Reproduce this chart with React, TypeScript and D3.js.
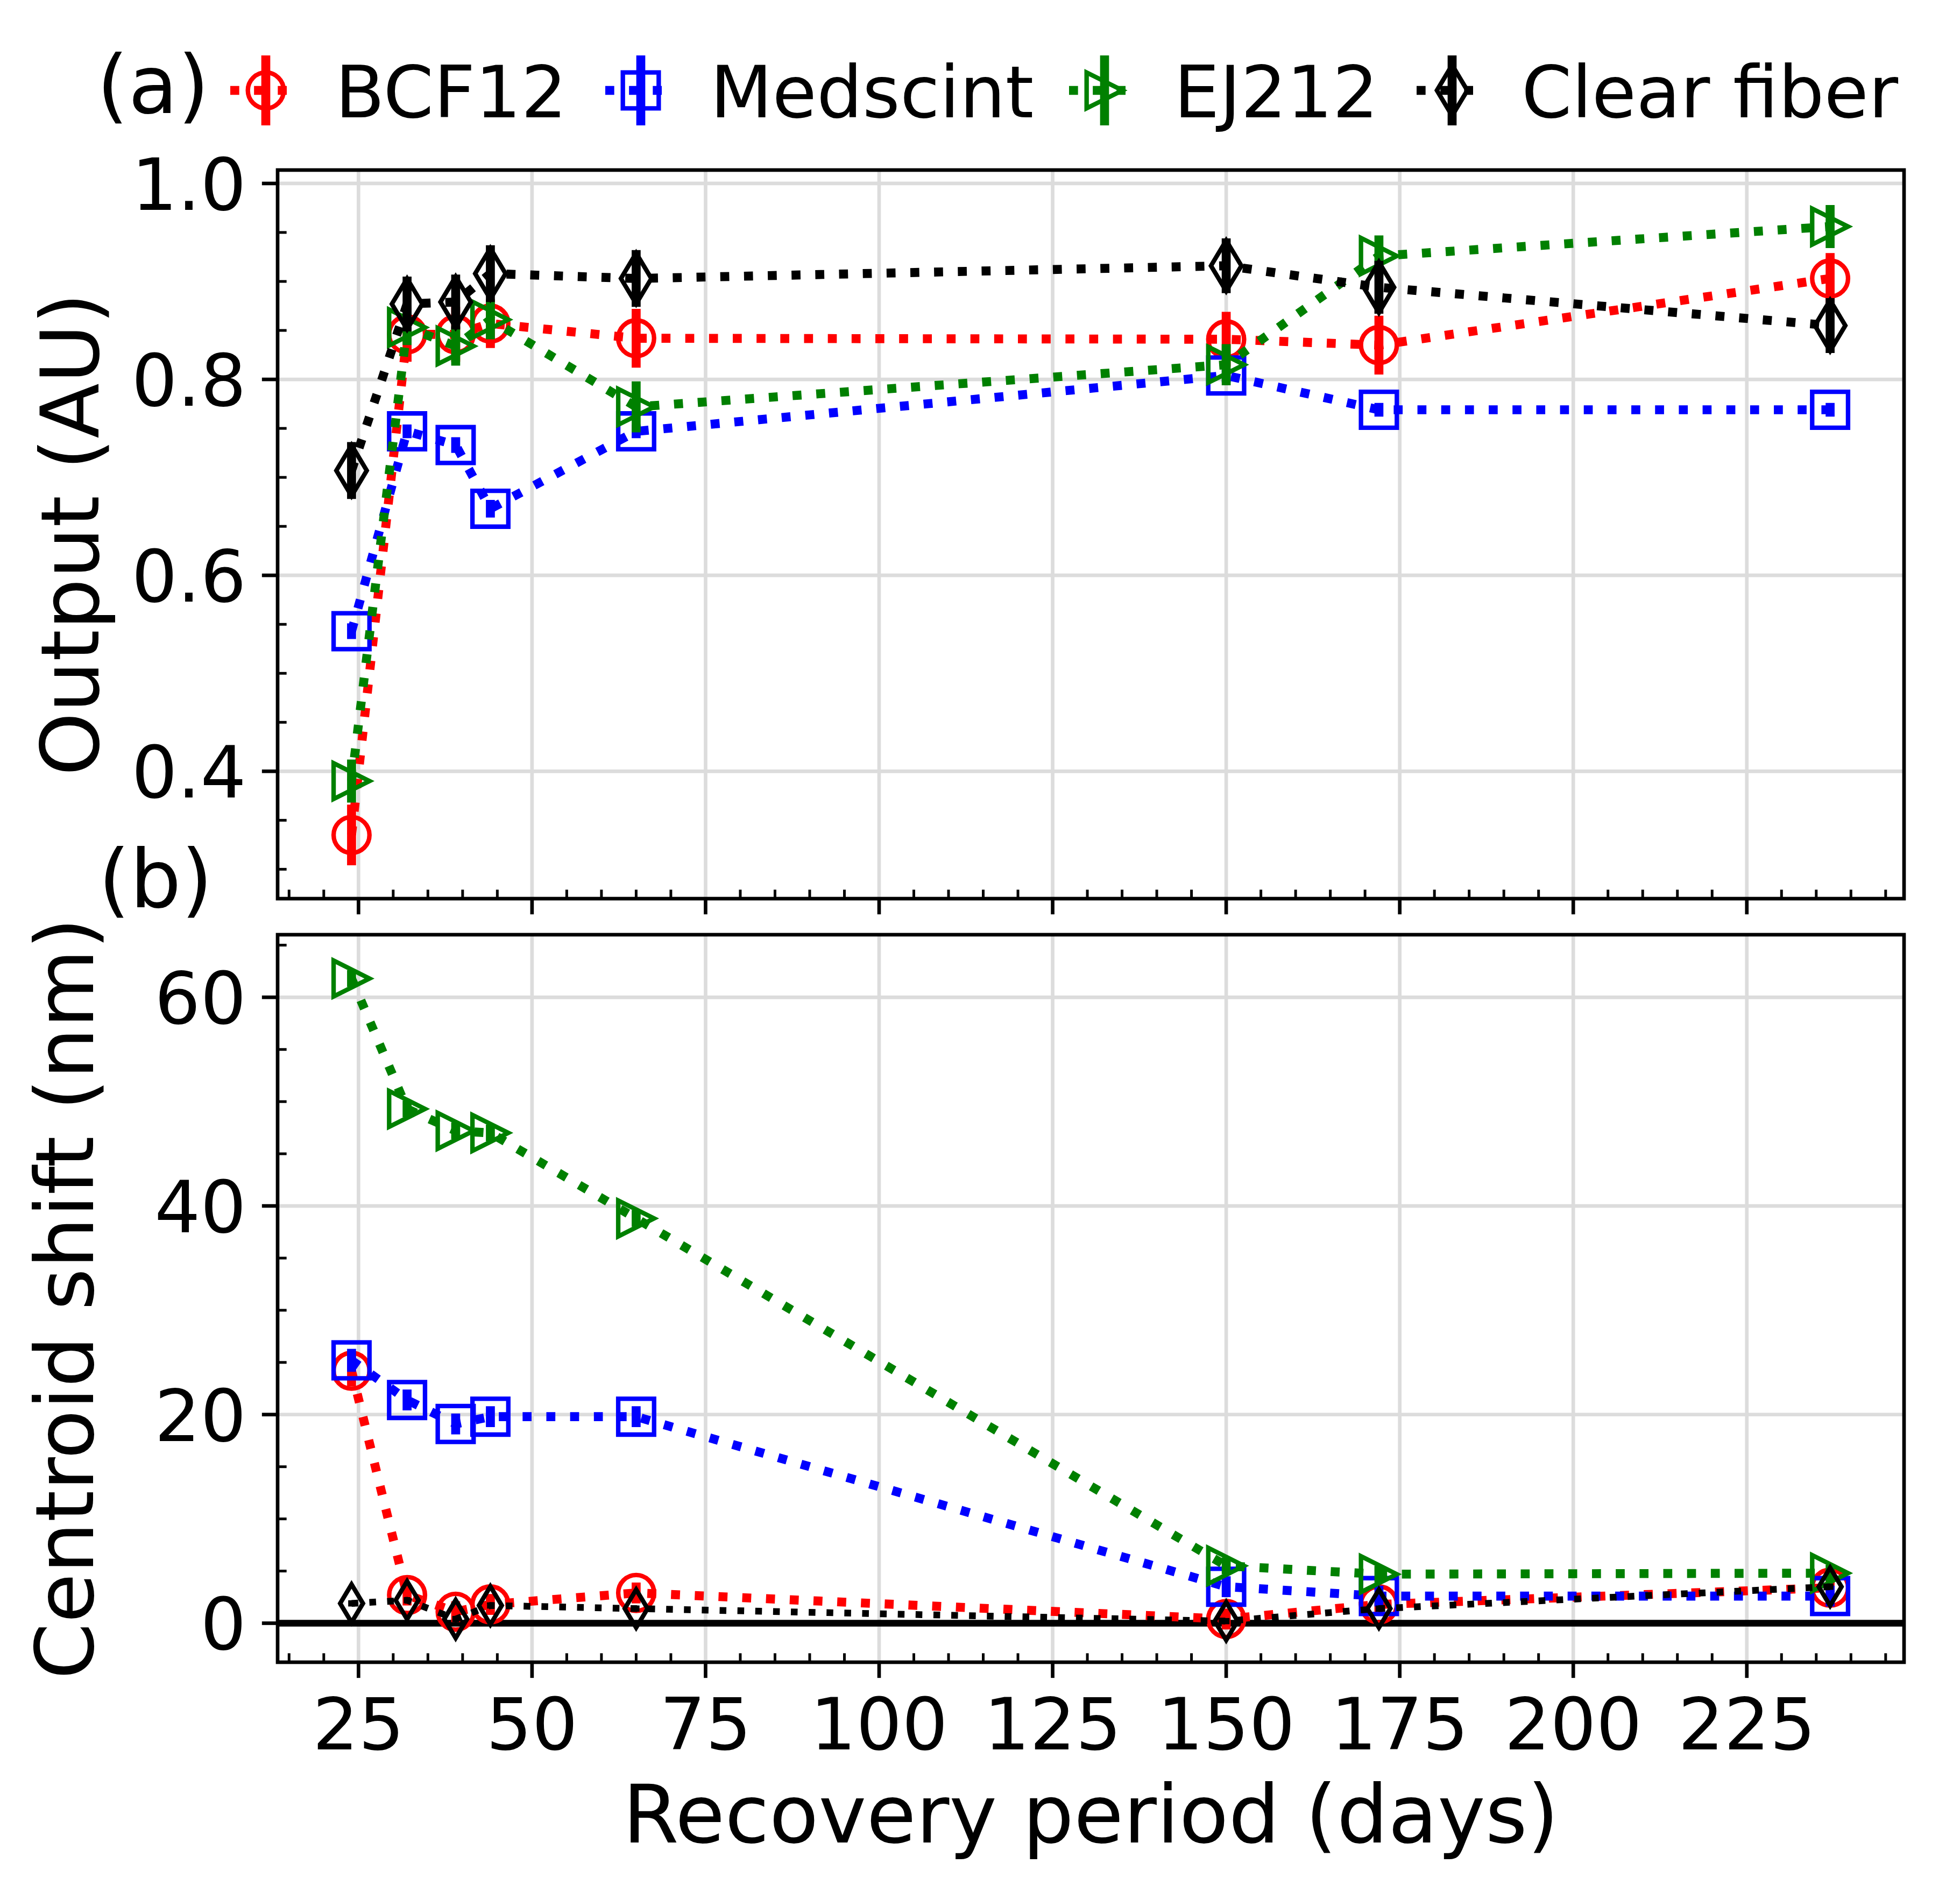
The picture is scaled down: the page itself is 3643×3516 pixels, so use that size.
import * as d3 from "d3";
import { useEffect, useRef } from "react";

// Recovery period (days)
const days = [24, 32, 39, 44, 65, 150, 172, 237];

// Panel (a): output (AU)
const outputBCF12 = [0.335, 0.846, 0.846, 0.857, 0.842, 0.841, 0.835, 0.903];
const outputBCF12Err = [0.031, 0.028, 0.028, 0.025, 0.03, 0.028, 0.03, 0.026];
const outputMedscint = [0.543, 0.747, 0.733, 0.668, 0.747, 0.804, 0.769, 0.769];
const outputMedscintErr = [0.008, 0.007, 0.008, 0.009, 0.007, 0.007, 0.007, 0.007];
const outputEJ212 = [0.39, 0.853, 0.834, 0.861, 0.772, 0.815, 0.926, 0.956];
const outputEJ212Err = [0.022, 0.018, 0.02, 0.02, 0.026, 0.021, 0.021, 0.022];
const outputClear = [0.707, 0.877, 0.879, 0.908, 0.903, 0.916, 0.894, 0.855];
const outputClearErr = [0.029, 0.028, 0.028, 0.029, 0.029, 0.028, 0.027, 0.028];

// Panel (b): centroid shift (nm)
const shiftBCF12 = [24.2, 2.7, 1.1, 1.8, 2.9, 0.4, 1.8, 3.4];
const shiftBCF12Err = [1.5, 1.0, 1.0, 1.0, 1.0, 1.0, 1.0, 1.0];
const shiftMedscint = [25.2, 21.4, 19.1, 19.8, 19.8, 3.5, 2.6, 2.6];
const shiftMedscintErr = [1.1, 1.0, 1.0, 1.0, 1.0, 1.0, 1.0, 1.0];
const shiftEJ212 = [61.8, 49.3, 47.2, 47.0, 38.8, 5.5, 4.7, 4.8];
const shiftEJ212Err = [0.8, 0.8, 0.8, 0.8, 0.8, 0.8, 0.8, 0.8];
const shiftClear = [1.9, 2.2, 0.4, 1.7, 1.4, 0.2, 1.4, 3.5];
const shiftClearErr = [0.3, 0.3, 0.3, 0.3, 0.3, 0.3, 0.3, 0.3];

const seriesNames = ["BCF12", "Medscint", "EJ212", "Clear fiber"];
const seriesColors = ["#ff0000", "#0000ff", "#008000", "#000000"];
const seriesMarkers = ["circle", "square", "triangle", "diamond"];

const xMajor = [25, 50, 75, 100, 125, 150, 175, 200, 225];
const outputTicks = [0.4, 0.6, 0.8, 1.0];
const shiftTicks = [0, 20, 40, 60];

const FONT = "DejaVu Sans";
const PT = 600 / 72;

function markerPath(kind: string, ms: number) {
  const h = ms / 2;
  if (kind === "circle")
    return `M${h},0A${h},${h} 0 1,1 ${-h},0A${h},${h} 0 1,1 ${h},0Z`;
  if (kind === "square") return `M${-h},${-h}H${h}V${h}H${-h}Z`;
  if (kind === "triangle") return `M${h},0L${-h},${-h}L${-h},${h}Z`;
  const dy = ms * Math.SQRT1_2;
  const dx = dy * 0.6;
  return `M0,${-dy}L${dx},0L0,${dy}L${-dx},0Z`;
}

export default function App() {
  const svgRef = useRef<SVGSVGElement>(null);

  useEffect(() => {
    if (!svgRef.current) return;
    const svg = d3.select(svgRef.current);
    svg.selectAll("*").remove();

    const left = 516;
    const right = 3539;
    const x = d3.scaleLinear().domain([13.35, 247.65]).range([left, right]);

    const topVals = [outputBCF12, outputMedscint, outputEJ212, outputClear];
    const topErrs = [outputBCF12Err, outputMedscintErr, outputEJ212Err, outputClearErr];
    const botVals = [shiftBCF12, shiftMedscint, shiftEJ212, shiftClear];
    const botErrs = [shiftBCF12Err, shiftMedscintErr, shiftEJ212Err, shiftClearErr];

    const panels = [
      {
        top: 316,
        bottom: 1670,
        y: d3.scaleLinear().domain([0.27, 1.0137]).range([1670, 316]),
        ticks: outputTicks,
        minor: d3.range(0.3, 1.0137, 0.05),
        fmt: d3.format(".1f"),
        values: topVals,
        errors: topErrs,
        lw: seriesNames.map(() => 2 * PT),
        ms: seriesNames.map(() => 8 * PT),
        showX: false,
        label: "Output (AU)",
        labelX: 183,
        zero: false,
      },
      {
        top: 1737,
        bottom: 3089,
        y: d3.scaleLinear().domain([-3.74, 66.0]).range([3089, 1737]),
        ticks: shiftTicks,
        minor: d3.range(5, 66, 5),
        fmt: d3.format("d"),
        values: botVals,
        errors: botErrs,
        lw: [2 * PT, 2 * PT, 2 * PT, 1.5 * PT],
        ms: [8 * PT, 8 * PT, 8 * PT, 6 * PT],
        showX: true,
        label: "Centroid shift (nm)",
        labelX: 173,
        zero: true,
      },
    ];

    const xMinor = d3.range(15, 247, 5).filter((v) => v % 25 !== 0);

    panels.forEach((p) => {
      const g = svg.append("g");
      const y = p.y;

      // grid
      g.selectAll(".gx")
        .data(xMajor)
        .enter()
        .append("line")
        .attr("x1", (d) => x(d))
        .attr("x2", (d) => x(d))
        .attr("y1", p.top)
        .attr("y2", p.bottom)
        .attr("stroke", "#dcdcdc")
        .attr("stroke-width", 0.8 * PT);
      g.selectAll(".gy")
        .data(p.ticks)
        .enter()
        .append("line")
        .attr("x1", left)
        .attr("x2", right)
        .attr("y1", (d) => y(d))
        .attr("y2", (d) => y(d))
        .attr("stroke", "#dcdcdc")
        .attr("stroke-width", 0.8 * PT);

      if (p.zero) {
        g.append("line")
          .attr("x1", left)
          .attr("x2", right)
          .attr("y1", y(0))
          .attr("y2", y(0))
          .attr("stroke", "black")
          .attr("stroke-width", 1.5 * PT);
      }

      // series
      p.values.forEach((vals, si) => {
        const color = seriesColors[si];
        const lw = p.lw[si];
        const ms = p.ms[si];
        const errs = p.errors[si];
        const sg = g.append("g");

        sg.selectAll("line")
          .data(vals)
          .enter()
          .append("line")
          .attr("x1", (_, i) => x(days[i]))
          .attr("x2", (_, i) => x(days[i]))
          .attr("y1", (d, i) => y(d - errs[i]))
          .attr("y2", (d, i) => y(d + errs[i]))
          .attr("stroke", color)
          .attr("stroke-width", lw);

        const line = d3
          .line<number>()
          .x((_, i) => x(days[i]))
          .y((d) => y(d));

        sg.append("path")
          .datum(vals)
          .attr("d", line)
          .attr("fill", "none")
          .attr("stroke", color)
          .attr("stroke-width", lw)
          .attr("stroke-dasharray", `${lw} ${1.65 * lw}`)
          .attr("stroke-linecap", "butt");

        sg.selectAll(".mk")
          .data(vals)
          .enter()
          .append("path")
          .attr("transform", (d, i) => `translate(${x(days[i])},${y(d)})`)
          .attr("d", markerPath(seriesMarkers[si], ms))
          .attr("fill", "none")
          .attr("stroke", color)
          .attr("stroke-width", 1 * PT)
          .attr("stroke-linejoin", seriesMarkers[si] === "circle" ? "round" : "miter");
      });

      // spines
      g.append("rect")
        .attr("x", left)
        .attr("y", p.top)
        .attr("width", right - left)
        .attr("height", p.bottom - p.top)
        .attr("fill", "none")
        .attr("stroke", "black")
        .attr("stroke-width", 0.8 * PT);

      // x ticks
      g.selectAll(".xt")
        .data(xMajor)
        .enter()
        .append("line")
        .attr("x1", (d) => x(d))
        .attr("x2", (d) => x(d))
        .attr("y1", p.bottom)
        .attr("y2", p.bottom + 3.5 * PT)
        .attr("stroke", "black")
        .attr("stroke-width", 0.8 * PT);
      g.selectAll(".xm")
        .data(xMinor)
        .enter()
        .append("line")
        .attr("x1", (d) => x(d))
        .attr("x2", (d) => x(d))
        .attr("y1", p.bottom)
        .attr("y2", p.bottom - 2 * PT)
        .attr("stroke", "black")
        .attr("stroke-width", 0.6 * PT);

      // y ticks
      g.selectAll(".yt")
        .data(p.ticks)
        .enter()
        .append("line")
        .attr("x1", left)
        .attr("x2", left - 3.5 * PT)
        .attr("y1", (d) => y(d))
        .attr("y2", (d) => y(d))
        .attr("stroke", "black")
        .attr("stroke-width", 0.8 * PT);
      g.selectAll(".ym")
        .data(p.minor.filter((v) => !p.ticks.some((t) => Math.abs(t - v) < 1e-6)))
        .enter()
        .append("line")
        .attr("x1", left)
        .attr("x2", left + 2 * PT)
        .attr("y1", (d) => y(d))
        .attr("y2", (d) => y(d))
        .attr("stroke", "black")
        .attr("stroke-width", 0.6 * PT);

      g.selectAll(".yl")
        .data(p.ticks)
        .enter()
        .append("text")
        .attr("x", left - 7 * PT)
        .attr("y", (d) => y(d) + 0.3645 * 134)
        .attr("text-anchor", "end")
        .attr("font-family", FONT)
        .attr("font-size", 134)
        .text((d) => p.fmt(d));

      if (p.showX) {
        g.selectAll(".xl")
          .data(xMajor)
          .enter()
          .append("text")
          .attr("x", (d) => x(d))
          .attr("y", 3251)
          .attr("text-anchor", "middle")
          .attr("font-family", FONT)
          .attr("font-size", 134)
          .text((d) => String(d));
      }

      const cy = (p.top + p.bottom) / 2;
      g.append("text")
        .attr("transform", `translate(${p.labelX},${cy}) rotate(-90)`)
        .attr("text-anchor", "middle")
        .attr("font-family", FONT)
        .attr("font-size", 150)
        .text(p.label);
    });

    // x label
    svg.append("text")
      .attr("x", (left + right) / 2)
      .attr("y", 3424)
      .attr("text-anchor", "middle")
      .attr("font-family", FONT)
      .attr("font-size", 150)
      .text("Recovery period (days)");

    // panel tags
    svg.append("text")
      .attr("x", 180)
      .attr("y", 210)
      .attr("font-family", FONT)
      .attr("font-size", 150)
      .text("(a)");
    svg.append("text")
      .attr("x", 183)
      .attr("y", 1686)
      .attr("font-family", FONT)
      .attr("font-size", 150)
      .text("(b)");

    // legend
    const legendX = [428, 1125, 1987, 2633];
    const handleW = 132;
    const legendY = 168;
    seriesNames.forEach((name, si) => {
      const lg = svg.append("g").attr("transform", `translate(${legendX[si]},${legendY})`);
      const color = seriesColors[si];
      const lw = 2 * PT;
      lg.append("line")
        .attr("x1", handleW / 2)
        .attr("x2", handleW / 2)
        .attr("y1", -65)
        .attr("y2", 65)
        .attr("stroke", color)
        .attr("stroke-width", lw);
      lg.append("line")
        .attr("x1", 0)
        .attr("x2", handleW)
        .attr("y1", 0)
        .attr("y2", 0)
        .attr("stroke", color)
        .attr("stroke-width", lw)
        .attr("stroke-dasharray", `${lw} ${1.65 * lw}`);
      lg.append("path")
        .attr("transform", `translate(${handleW / 2},0)`)
        .attr("d", markerPath(seriesMarkers[si], 8 * PT))
        .attr("fill", "none")
        .attr("stroke", color)
        .attr("stroke-width", 1 * PT)
        .attr("stroke-linejoin", seriesMarkers[si] === "circle" ? "round" : "miter");
      lg.append("text")
        .attr("x", 195)
        .attr("y", 50)
        .attr("font-family", FONT)
        .attr("font-size", 134)
        .text(name);
    });
  }, []);

  return (
    <svg
      ref={svgRef}
      width={3643}
      height={3516}
      style={{ position: "absolute", left: 0, top: 0, background: "white" }}
    />
  );
}
